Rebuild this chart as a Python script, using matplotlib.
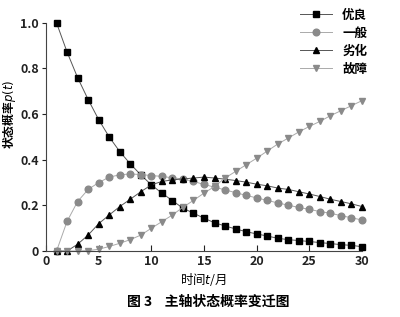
import matplotlib
matplotlib.use("Agg")
import matplotlib.pyplot as plt
from matplotlib.ticker import FuncFormatter

plt.rcParams['font.family'] = ['Noto Sans CJK SC', 'DejaVu Sans']

# 时间 (月)
t = list(range(1, 31))

# 优良
good = [1.0, 0.872, 0.76, 0.664, 0.576, 0.50, 0.436, 0.382, 0.334, 0.29,
        0.254, 0.221, 0.188, 0.166, 0.144, 0.124, 0.11, 0.097, 0.085, 0.075,
        0.066, 0.056, 0.05, 0.046, 0.042, 0.037, 0.033, 0.028, 0.025, 0.019]
# 一般
normal = [0.0, 0.13, 0.217, 0.27, 0.30, 0.324, 0.334, 0.338, 0.335, 0.331,
          0.327, 0.321, 0.316, 0.305, 0.292, 0.28, 0.268, 0.256, 0.244, 0.233,
          0.222, 0.211, 0.201, 0.191, 0.183, 0.173, 0.166, 0.155, 0.146, 0.136]
# 劣化
degrade = [0.0, 0.0, 0.03, 0.07, 0.12, 0.158, 0.195, 0.227, 0.26, 0.29,
           0.305, 0.312, 0.316, 0.32, 0.324, 0.32, 0.315, 0.309, 0.302, 0.293,
           0.286, 0.276, 0.27, 0.26, 0.25, 0.239, 0.227, 0.217, 0.207, 0.195]
# 故障
fault = [0.0, 0.0, 0.0, 0.002, 0.008, 0.02, 0.034, 0.05, 0.07, 0.1,
         0.129, 0.158, 0.192, 0.222, 0.254, 0.283, 0.32, 0.349, 0.378, 0.407,
         0.438, 0.469, 0.495, 0.522, 0.546, 0.568, 0.593, 0.615, 0.637, 0.659]

xticks = [0, 5, 10, 15, 20, 25, 30]
yticks = [0, 0.2, 0.4, 0.6, 0.8, 1.0]

fig = plt.figure(figsize=(4.0, 3.17), dpi=100)
ax = fig.add_axes([0.115, 0.208, 0.79, 0.72])

ax.plot(t, good, color='#555555', lw=0.7, marker='s', ms=4.5,
        mfc='black', mec='black', clip_on=False, label='优良')
ax.plot(t, normal, color='#aaaaaa', lw=0.7, marker='o', ms=4.8,
        mfc='#8a8a8a', mec='#8a8a8a', clip_on=False, label='一般')
ax.plot(t, degrade, color='#555555', lw=0.7, marker='^', ms=5,
        mfc='black', mec='black', clip_on=False, label='劣化')
ax.plot(t, fault, color='#aaaaaa', lw=0.7, marker='v', ms=5,
        mfc='#8a8a8a', mec='#8a8a8a', clip_on=False, label='故障')

ax.set_xlim(0, 30)
ax.set_ylim(0, 1.0)
ax.set_xticks(xticks)
ax.set_yticks(yticks)
ax.yaxis.set_major_formatter(FuncFormatter(lambda v, p: '0' if v == 0 else '%.1f' % v))
ax.spines['top'].set_visible(False)
ax.spines['right'].set_visible(False)
ax.spines['left'].set_color('#444444')
ax.spines['bottom'].set_color('#444444')
ax.tick_params(axis='x', direction='in', length=4, labelsize=9, pad=3, colors='#222222')
ax.tick_params(axis='y', direction='out', length=3, labelsize=9, pad=2, colors='#222222')
for lab in ax.get_xticklabels() + ax.get_yticklabels():
    lab.set_fontweight('bold')

ax.set_xlabel('时间$t$/月', fontsize=9, labelpad=2)
ax.set_ylabel('状态概率$p(t)$', fontsize=8.5, fontweight='bold')
ax.yaxis.set_label_coords(-0.088, 0.6)

fig.legend(loc='upper right', bbox_to_anchor=(0.94, 1.0), frameon=False,
           handlelength=2.6, labelspacing=0.4, borderpad=0.2,
           prop={'weight': 'bold', 'size': 9})

fig.text(0.52, 0.035, '图 3    主轴状态概率变迁图', ha='center', fontsize=10,
         fontweight='bold')

fig.savefig('out.png', dpi=100)
